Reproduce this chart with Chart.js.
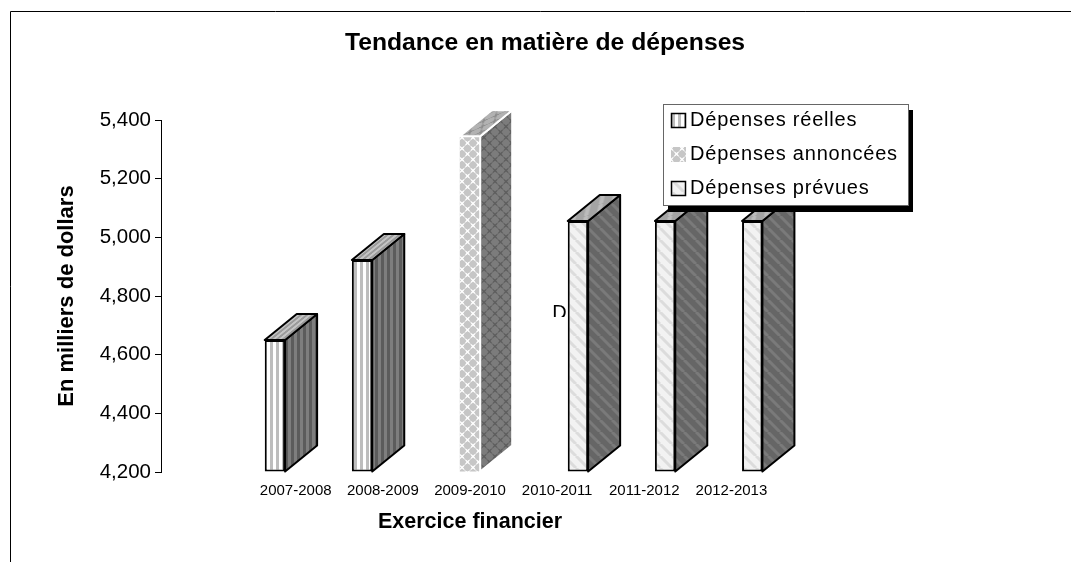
<!DOCTYPE html>
<html>
<head>
<meta charset="utf-8">
<style>
  html, body { margin: 0; padding: 0; background: #fff; }
  canvas { display: block; }
</style>
<script src="https://cdn.jsdelivr.net/npm/chart.js@4/dist/chart.umd.js"></script>
</head>
<body>
<canvas id="chart" width="1071" height="562"></canvas>
<script>
const years = ["", "2007-2008", "2008-2009", "2009-2010", "2010-2011", "2011-2012", "2012-2013"];
const depensesReelles = [null, 4650, 4923, null, null, null, null];
const depensesAnnoncees = [null, null, null, 5345, null, null, null];
const depensesPrevues = [null, null, null, null, 5056, 5056, 5056];
const yTicks = [4200, 4400, 4600, 4800, 5000, 5200, 5400];

const FONT = "'Liberation Sans', Arial, sans-serif";
const DEPTH_X = 32;
const DEPTH_Y = 26;

function tile(w, h, bg, paint) {
  const c = document.createElement("canvas");
  c.width = w;
  c.height = h;
  const g = c.getContext("2d");
  g.fillStyle = bg;
  g.fillRect(0, 0, w, h);
  paint(g);
  return document.createElement("canvas").getContext("2d").createPattern(c, "repeat");
}

function stripes(bg, fg) {
  return tile(6, 6, bg, (g) => {
    g.fillStyle = fg;
    g.fillRect(0, 0, 3, 6);
  });
}

function diamonds(bg, fg) {
  return tile(11, 11, bg, (g) => {
    g.fillStyle = fg;
    [[5.5, 5.5], [0, 0], [11, 0], [0, 11], [11, 11]].forEach(([x, y]) => {
      g.beginPath();
      g.arc(x, y, 3.5, 0, Math.PI * 2);
      g.fill();
      g.beginPath();
      g.moveTo(x - 4.5, y);
      g.lineTo(x, y - 4.5);
      g.lineTo(x + 4.5, y);
      g.lineTo(x, y + 4.5);
      g.fill();
    });
  });
}

function diagonals(bg, fg) {
  return tile(12, 12, bg, (g) => {
    g.strokeStyle = fg;
    g.lineWidth = 3;
    [-12, 0, 12].forEach((o) => {
      g.beginPath();
      g.moveTo(o, 0);
      g.lineTo(o + 12, 12);
      g.stroke();
    });
  });
}

function skewed(p) {
  p.setTransform(new DOMMatrix([1, 0, -DEPTH_X / DEPTH_Y, 1, 0, 0]));
  return p;
}

// draws the side and top of each bar, the front is the normal chart.js bar
const depthPlugin = {
  id: "depth",
  afterDatasetsDraw(chart) {
    const ctx = chart.ctx;
    chart.data.datasets.forEach((ds, d) => {
      chart.getDatasetMeta(d).data.forEach((bar, i) => {
        if (ds.data[i] == null) return;
        const w = bar.width / 2;
        const l = bar.x - w, r = bar.x + w, t = bar.y, b = bar.base;
        ctx.save();
        ctx.lineJoin = "round";
        ctx.lineWidth = 2;
        ctx.strokeStyle = ds.edgeColor;
        ctx.fillStyle = ds.sideFill;
        ctx.beginPath();
        ctx.moveTo(r, t);
        ctx.lineTo(r + DEPTH_X, t - DEPTH_Y);
        ctx.lineTo(r + DEPTH_X, b - DEPTH_Y);
        ctx.lineTo(r, b);
        ctx.closePath();
        ctx.fill();
        ctx.stroke();
        ctx.fillStyle = ds.topFill;
        ctx.beginPath();
        ctx.moveTo(l, t);
        ctx.lineTo(l + DEPTH_X, t - DEPTH_Y);
        ctx.lineTo(r + DEPTH_X, t - DEPTH_Y);
        ctx.lineTo(r, t);
        ctx.closePath();
        ctx.fill();
        ctx.stroke();
        ctx.restore();
      });
    });
  },
};

const framePlugin = {
  id: "frame",
  afterLayout(chart) {
    // y axis sits a bit left of the first category in the original
    chart.scales.y.left -= 4;
    chart.scales.y.right -= 4;
    chart.titleBlock.left += 261;
  },
  beforeDraw(chart) {
    const ctx = chart.ctx;
    ctx.save();
    ctx.fillStyle = "#fff";
    ctx.fillRect(0, 0, chart.width, chart.height);
    ctx.strokeStyle = "#000";
    ctx.lineWidth = 1;
    ctx.beginPath();
    ctx.moveTo(10.5, chart.height);
    ctx.lineTo(10.5, 11.5);
    ctx.lineTo(chart.width, 11.5);
    ctx.stroke();
    ctx.restore();
  },
};

const legendPlugin = {
  id: "boxLegend",
  afterDraw(chart) {
    const ctx = chart.ctx;
    ctx.save();
    // stray clipped label left in the original picture
    const dx = chart.scales.x.getPixelForValue(4);
    const dy = chart.scales.y.getPixelForValue(4769);
    ctx.save();
    ctx.beginPath();
    ctx.rect(dx - 10, dy - 2, 24, 14);
    ctx.clip();
    ctx.fillStyle = "#000";
    ctx.font = "20px " + FONT;
    ctx.textAlign = "left";
    ctx.textBaseline = "alphabetic";
    ctx.fillText("D", dx - 5, dy + 14);
    ctx.restore();

    ctx.fillStyle = "#000";
    ctx.fillRect(668, 110, 245, 102);
    ctx.fillStyle = "#fff";
    ctx.fillRect(663, 104, 246, 102);
    ctx.strokeStyle = "#666";
    ctx.lineWidth = 1;
    ctx.strokeRect(663.5, 104.5, 245, 101);

    ctx.font = "20px " + FONT;
    ctx.textBaseline = "middle";
    ctx.textAlign = "left";
    ctx.letterSpacing = "0.8px";
    chart.data.datasets.forEach((ds, d) => {
      const y = 120 + d * 34;
      ctx.fillStyle = ds.backgroundColor;
      ctx.fillRect(671, y - 7, 15, 15);
      if (ds.borderWidth) {
        ctx.strokeStyle = "#000";
        ctx.lineWidth = 1.5;
        ctx.strokeRect(671.5, y - 6.5, 14, 14);
      }
      ctx.fillStyle = "#000";
      ctx.fillText(ds.label, 690, y);
    });
    ctx.restore();
  },
};

new Chart(document.getElementById("chart"), {
  type: "bar",
  plugins: [framePlugin, depthPlugin, legendPlugin],
  data: {
    labels: years,
    datasets: [
      {
        label: "Dépenses réelles",
        data: depensesReelles,
        base: yTicks[0],
        backgroundColor: stripes("#ffffff", "#bdbdbd"),
        sideFill: stripes("#5c5c5c", "#7e7e7e"),
        topFill: skewed(stripes("#9a9a9a", "#c4c4c4")),
        edgeColor: "#000",
        borderColor: "#000",
        borderWidth: 2,
        borderSkipped: false,
      },
      {
        label: "Dépenses annoncées",
        data: depensesAnnoncees,
        base: yTicks[0],
        backgroundColor: diamonds("#ffffff", "#c6c6c6"),
        sideFill: diamonds("#5e5e5e", "#7c7c7c"),
        topFill: skewed(diamonds("#8c8c8c", "#b2b2b2")),
        edgeColor: "#fff",
        borderColor: "#fff",
        borderWidth: 0,
      },
      {
        label: "Dépenses prévues",
        data: depensesPrevues,
        base: yTicks[0],
        backgroundColor: diagonals("#f2f2f2", "#dcdcdc"),
        sideFill: diagonals("#666666", "#7a7a7a"),
        topFill: skewed(diagonals("#a4a4a4", "#bcbcbc")),
        edgeColor: "#000",
        borderColor: "#000",
        borderWidth: 2,
        borderSkipped: false,
      },
    ],
  },
  options: {
    responsive: false,
    animation: false,
    events: [],
    layout: { padding: { left: 54, right: 296, top: 0, bottom: 23 } },
    categoryPercentage: 0.716,
    barPercentage: 0.98,
    plugins: {
      legend: { display: false },
      tooltip: { enabled: false },
      title: {
        display: true,
        text: "Tendance en matière de dépenses",
        color: "#000",
        font: { family: FONT, size: 24.7, weight: "bold" },
        padding: { top: 28, bottom: 62.4 },
      },
    },
    scales: {
      x: {
        grid: { display: false },
        border: { display: false },
        ticks: {
          autoSkip: false,
          maxRotation: 0,
          padding: 2,
          color: "#000",
          font: { family: FONT, size: 15 },
        },
        title: {
          display: true,
          text: "Exercice financier",
          color: "#000",
          font: { family: FONT, size: 21.5, weight: "bold" },
        },
        afterFit(s) { s.height = 67; },
      },
      y: {
        min: yTicks[0],
        max: yTicks[yTicks.length - 1],
        grid: { drawOnChartArea: false, tickLength: 6, tickColor: "#000" },
        border: { display: true, color: "#000" },
        afterBuildTicks(s) { s.ticks = yTicks.map((value) => ({ value })); },
        ticks: {
          padding: 4,
          color: "#000",
          font: { family: FONT, size: 20.5 },
          callback: (v) => v.toLocaleString("en-US"),
        },
        title: {
          display: true,
          text: "En milliers de dollars",
          color: "#000",
          font: { family: FONT, size: 22, weight: "bold" },
        },
        afterFit(s) { s.width = 111; },
      },
    },
  },
});
</script>
</body>
</html>
